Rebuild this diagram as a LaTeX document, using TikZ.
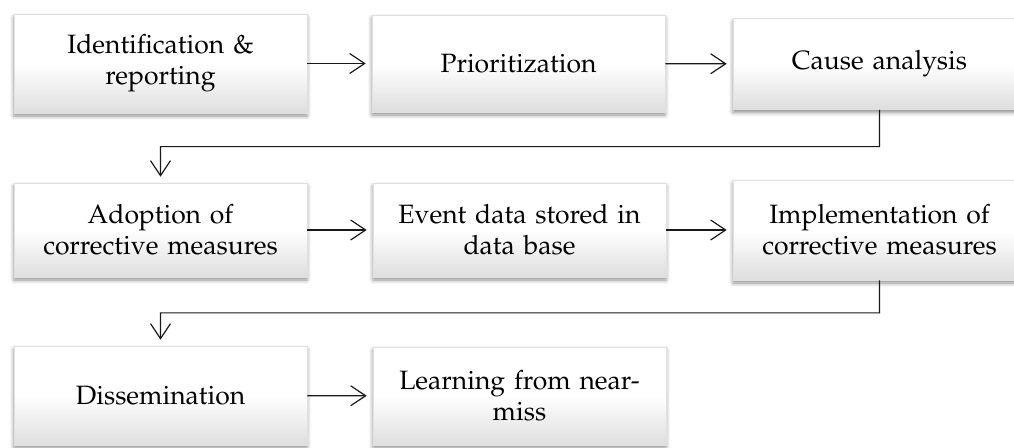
\documentclass[tikz,border=0pt]{standalone}
\usepackage[T1]{fontenc}
\usepackage{mathpazo}
\usepackage{tikz}
\usetikzlibrary{arrows.meta,calc,shadows.blur}

\tikzset{
	stage/.style={rectangle,draw=black!12,line width=0.6pt,
		top color=white,bottom color=black!13,middle color=white,
		blur shadow={shadow xshift=0pt,shadow yshift=-3pt,shadow blur radius=4pt,shadow opacity=45},
		minimum width=293pt,inner sep=0pt,text width=280pt,align=center,
		font=\fontsize{26.5}{31}\selectfont},
	flow/.style={line width=1.2pt,black!90,-{Straight Barb[length=15pt,width=20pt,line width=1.2pt]},shorten >=6pt},
}

\begin{document}
\begin{tikzpicture}[x=1pt,y=-1pt]

\useasboundingbox (0,0) rectangle (1014,447);
\clip (0,0) rectangle (1014,447);

% first row
\node[stage,minimum height=99pt] (ident) at (160.5,63.5) {Identification \&\\ reporting};
\node[stage,minimum height=97pt] (prior) at (518.5,63.5) {Prioritization};
\node[stage,minimum height=91pt] (cause) at (879.5,64) {Cause analysis};

% second row
\node[stage,minimum height=94pt] (adopt) at (160.5,230) {Adoption of\\ corrective measures};
\node[stage,minimum height=94pt] (event) at (519.5,230) {Event data stored in\\ data base};
\node[stage,minimum height=100pt] (impl) at (879.5,230) {Implementation of\\ corrective measures};

% third row
\node[stage,minimum height=99pt] (dissem) at (160.5,395.5) {Dissemination};
\node[stage,minimum height=98pt] (learn) at (519.5,396) {Learning from near-\\ miss};

% arrows along the rows
\draw[flow] (ident) -- (prior);
\draw[flow] (prior) -- (cause);
\draw[flow] (adopt) -- (event);
\draw[flow] (event) -- (impl);
\draw[flow] (dissem) -- (learn);

% returns to the next row
\coordinate (turn1) at ($(ident.south)!.48!(adopt.north)$);
\coordinate (turn2) at ($(adopt.south)!.52!(dissem.north)$);
\draw[flow] (cause.south) |- (turn1) -- (adopt.north);
\draw[flow] (impl.south) |- (turn2) -- (dissem.north);

\end{tikzpicture}
\end{document}
